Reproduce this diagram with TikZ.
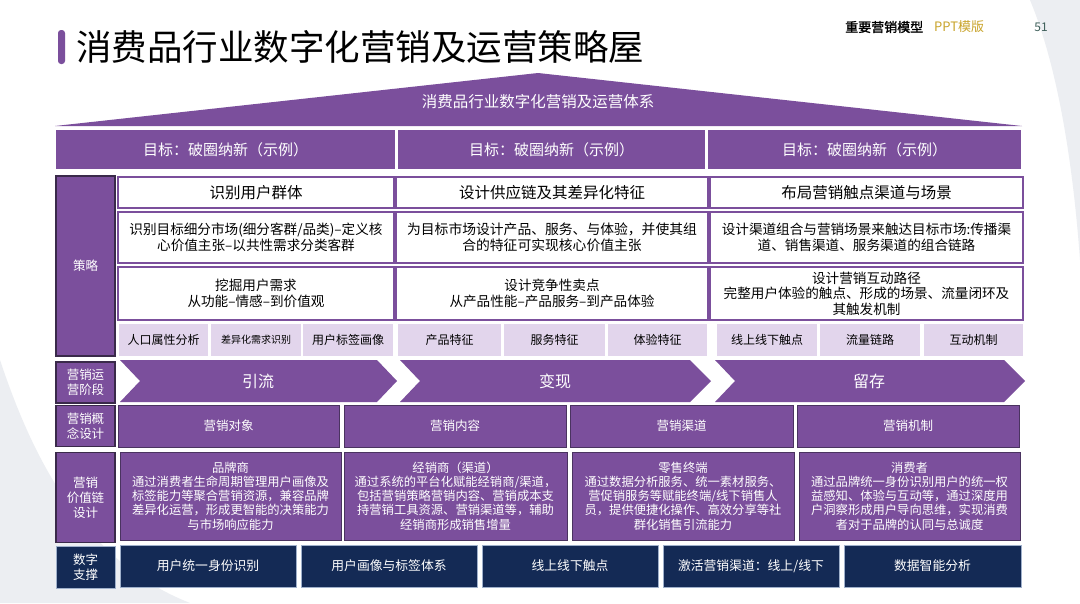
\documentclass[tikz,border=0pt]{standalone}
\usepackage{fontspec}
\setmainfont{Noto Sans CJK SC}
\newfontfamily\boldcjk[FakeBold=1.6]{Noto Sans CJK SC}
\begin{document}
\begin{tikzpicture}[x=1pt,y=-1pt,
  sz/.style 2 args={minimum width=#1pt,minimum height=#2pt,inner sep=0pt,outer sep=0pt},
  fs/.style 2 args={font=\fontsize{#1}{#2}\selectfont},
  labelbox/.style={fill=pur,draw=purdeep,line width=1.2pt,text=white,align=center,fs={12.5}{15}},
  navylabel/.style={fill=navy,draw=navyedge,line width=0.8pt,text=white,align=center,fs={12.5}{15}},
  goalcell/.style={fill=pur,draw=white,line width=1.5pt,text=white,fs={15}{18}},
  whitebox/.style={fill=white,draw=pur,line width=1.2pt,text=black,align=center},
  lavbox/.style={fill=lav,draw=none,text=black,fs={12}{14}},
  conbox/.style={fill=pur,draw=purdark,line width=1pt,text=white,fs={12.5}{15}},
  valbox/.style={fill=pur,draw=purdark,line width=1pt,text=white,align=center,fs={12.3}{14.2}},
  navybox/.style={fill=navy,draw=navyedge,line width=0.8pt,text=white,fs={12.8}{15}},
  chev/.style={fill=pur,draw=none},
  chevtext/.style={text=white,fs={16}{18}},
]
\definecolor{pur}{HTML}{7B4F9C}
\definecolor{purdark}{HTML}{4A3360}
\definecolor{purdeep}{HTML}{3A2A4A}
\definecolor{lav}{HTML}{E2D5EC}
\definecolor{navy}{HTML}{142A55}
\definecolor{navyedge}{HTML}{9FB0CB}
\definecolor{bggray}{HTML}{ECEEF2}
\definecolor{gold}{HTML}{C9A42B}
\definecolor{pgnum}{HTML}{3E5F5A}
\useasboundingbox (0,0) rectangle (1080,603);
% background
\fill[white] (0,0) rectangle (1080,603);
\fill[bggray] (1030,0) .. controls (1055,60) and (1072,150) .. (1080,260) -- (1080,0) -- cycle;
\fill[bggray] (0,360) .. controls (30,450) and (80,560) .. (190,603) -- (0,603) -- cycle;
% title
\fill[pur,rounded corners=3pt] (58,30) rectangle (65,64);
\node[anchor=west,inner sep=0pt,fs={35.5}{38}] (title) at (76,47) {消费品行业数字化营销及运营策略屋};
\node[anchor=west,inner sep=0pt,font=\boldcjk\fontsize{13}{15}\selectfont] (hdr1) at (845,27) {重要营销模型};
\node[anchor=west,inner sep=0pt,text=gold,fs={13}{15}] (hdr2) at (934,27) {PPT模版};
\node[inner sep=0pt,text=pgnum,fs={12}{14}] (pg) at (1041,27) {51};
% roof
\fill[pur] (55,126) -- (538,73) -- (1022,126) -- cycle;
\node[text=white,fs={15.5}{18}] (roof) at (538,102) {消费品行业数字化营销及运营体系};
% goals
\node[goalcell,sz={341}{41}] (g1) at (225.5,149.5) {目标：破圈纳新（示例）};
\node[goalcell,sz={309}{41}] (g2) at (551.5,149.5) {目标：破圈纳新（示例）};
\node[goalcell,sz={315}{41}] (g3) at (864.5,149.5) {目标：破圈纳新（示例）};
% strategy
\node[labelbox,sz={59}{180}] (lstrat) at (85.5,266) {策略};
\node[whitebox,sz={276}{31},fs={15.5}{18}] (s11) at (256,192.5) {识别用户群体};
\node[whitebox,sz={312}{31},fs={15.5}{18}] (s12) at (552,192.5) {设计供应链及其差异化特征};
\node[whitebox,sz={313}{31},fs={15.5}{18}] (s13) at (866.5,192.5) {布局营销触点渠道与场景};
\node[whitebox,sz={276}{51},fs={13.6}{15.5}] (s21) at (256,237.5) {识别目标细分市场(细分客群/品类)–定义核\\心价值主张–以共性需求分类客群};
\node[whitebox,sz={312}{51},fs={13.8}{15.5}] (s22) at (552,237.5) {为目标市场设计产品、服务、与体验，并使其组\\合的特征可实现核心价值主张};
\node[whitebox,sz={313}{51},fs={13.6}{15.5}] (s23) at (866.5,237.5) {设计渠道组合与营销场景来触达目标市场:传播渠\\道、销售渠道、服务渠道的组合链路};
\node[whitebox,sz={276}{53},fs={13.6}{15.5}] (s31) at (256,293.5) {挖掘用户需求\\从功能–情感–到价值观};
\node[whitebox,sz={312}{53},fs={13.6}{15.5}] (s32) at (552,293.5) {设计竞争性卖点\\从产品性能–产品服务–到产品体验};
\node[whitebox,sz={313}{53},fs={13.6}{15.5}] (s33) at (866.5,293.5) {设计营销互动路径\\完整用户体验的触点、形成的场景、流量闭环及\\其触发机制};
\node[lavbox,sz={89}{32}] (t1) at (163.5,340) {人口属性分析};
\node[lavbox,sz={90}{32},fs={10}{12}] (t2) at (256,340) {差异化需求识别};
\node[lavbox,sz={90}{32}] (t3) at (348,340) {用户标签画像};
\node[lavbox,sz={103}{32}] (t4) at (449.5,340) {产品特征};
\node[lavbox,sz={101}{32}] (t5) at (554.5,340) {服务特征};
\node[lavbox,sz={99}{32}] (t6) at (657.5,340) {体验特征};
\node[lavbox,sz={100}{32}] (t7) at (767,340) {线上线下触点};
\node[lavbox,sz={100}{32}] (t8) at (870,340) {流量链路};
\node[lavbox,sz={99}{32}] (t9) at (973.5,340) {互动机制};
% stages
\node[labelbox,sz={59}{41}] (lstage) at (85.5,382.5) {营销运\\营阶段};
\fill[chev] (120,360) -- (377,360) -- (397,381) -- (377,402) -- (120,402) -- (140,381) -- cycle;
\fill[chev] (400,360) -- (690,360) -- (711,381) -- (690,402) -- (400,402) -- (420,381) -- cycle;
\fill[chev] (715,360) -- (1004,360) -- (1025,381) -- (1004,402) -- (715,402) -- (735,381) -- cycle;
\node[chevtext] (st1) at (258,381) {引流};
\node[chevtext] (st2) at (555,381) {变现};
\node[chevtext] (st3) at (869,381) {留存};
% concept
\node[labelbox,sz={59}{41}] (lcon) at (85.5,426) {营销概\\念设计};
\node[conbox,sz={221}{42}] (c1) at (228.5,426) {营销对象};
\node[conbox,sz={222}{42}] (c2) at (455,426) {营销内容};
\node[conbox,sz={223}{42}] (c3) at (681.5,426) {营销渠道};
\node[conbox,sz={222}{42}] (c4) at (908,426) {营销机制};
% value chain
\node[labelbox,sz={59}{90}] (lval) at (85.5,497.5) {营销\\价值链\\设计};
\node[valbox,sz={221}{88}] (v1) at (230.5,496) {品牌商\\通过消费者生命周期管理用户画像及\\标签能力等聚合营销资源，兼容品牌\\差异化运营，形成更智能的决策能力\\与市场响应能力};
\node[valbox,sz={223}{88}] (v2) at (455.5,496) {经销商（渠道）\\通过系统的平台化赋能经销商/渠道，\\包括营销策略营销内容、营销成本支\\持营销工具资源、营销渠道等，辅助\\经销商形成销售增量};
\node[valbox,sz={222}{88}] (v3) at (683,496) {零售终端\\通过数据分析服务、统一素材服务、\\营促销服务等赋能终端/线下销售人\\员，提供便捷化操作、高效分享等社\\群化销售引流能力};
\node[valbox,sz={221}{88}] (v4) at (909.5,496) {消费者\\通过品牌统一身份识别用户的统一权\\益感知、体验与互动等，通过深度用\\户洞察形成用户导向思维，实现消费\\者对于品牌的认同与总诚度};
% digital
\node[navylabel,sz={59}{42}] (ldig) at (85.5,567) {数字\\支撑};
\node[navybox,sz={176}{42}] (d1) at (208,566) {用户统一身份识别};
\node[navybox,sz={176}{42}] (d2) at (389,566) {用户画像与标签体系};
\node[navybox,sz={176}{42}] (d3) at (570,566) {线上线下触点};
\node[navybox,sz={176}{42}] (d4) at (751,566) {激活营销渠道：线上/线下};
\node[navybox,sz={177}{42}] (d5) at (932.5,566) {数据智能分析};
\end{tikzpicture}
\end{document}
